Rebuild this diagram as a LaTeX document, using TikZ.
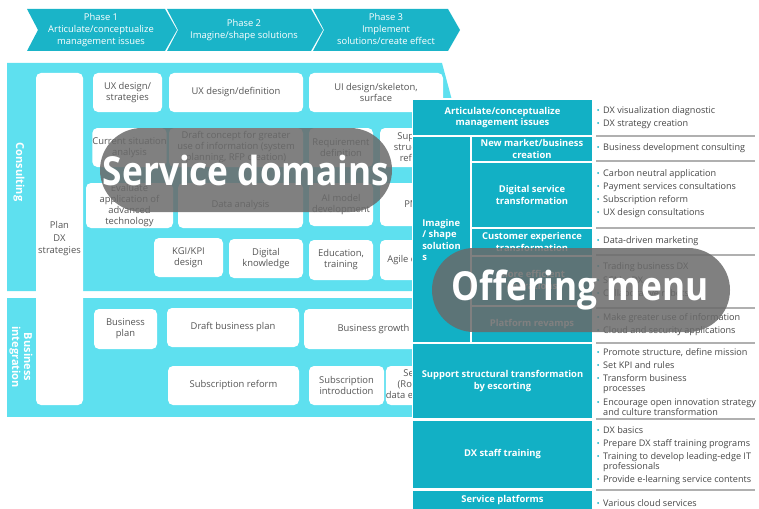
\documentclass[tikz,border=0pt]{standalone}
\usepackage{fontspec}
\setmainfont{Open Sans}
\usepackage{xcolor}
\usepackage{graphicx}
\usepackage{tikz}

\definecolor{phase}{HTML}{1AB4C8}
\definecolor{lite}{HTML}{5EE0EF}
\definecolor{deep}{HTML}{12B0C5}
\definecolor{ink}{HTML}{555555}
\definecolor{note}{HTML}{474747}
\definecolor{rul}{HTML}{B0B0B0}
\definecolor{veil}{HTML}{6A6A6A}

\tikzset{
	phs/.style={text=white, align=center, inner sep=0pt, font=\fontsize{9.4}{12}\selectfont},
	side/.style={rotate=-90, text=white, align=center, inner sep=0pt, font=\bfseries\fontsize{11}{12}\selectfont},
	wbox/.style={fill=white, rounded corners=5pt, text=ink, align=center, inner sep=0pt, font=\fontsize{9.4}{11}\selectfont},
	cell/.style={fill=deep, text=white, align=center, inner sep=0pt, font=\bfseries\fontsize{9.4}{11.5}\selectfont},
	item/.style={anchor=base west, inner sep=0pt, text=note, font=\fontsize{9.1}{11}\selectfont},
	big/.style={text=white, inner sep=0pt, font=\bfseries\fontsize{40}{40}\selectfont},
}

\begin{document}
\begin{tikzpicture}[x=1pt,y=-1pt]
	
	\useasboundingbox (0,0) rectangle (759,508);
	
	\foreach \a/\b in {27/165,167/311,313/448}
		\fill[phase] (\a,9) -- (\b,9) -- (\b+12,30) -- (\b,51) -- (\a,51) -- (\a+11,30) -- cycle;
	\node[phs] (p1) at (101,30.5) {Phase 1\\Articulate/conceptualize\\management issues};
	\node[phs] (p2) at (244,30) {Phase 2\\Imagine/shape solutions};
	\node[phs] (p3) at (386,29) {Phase 3\\Implement\\solutions/create effect};
	
	\fill[lite] (7,63) -- (442,63) -- (460,130) -- (460,291) -- (7,291) -- cycle;
	\fill[lite] (7,298) rectangle (440,417);
	\node[side] (cl) at (19,172) {Consulting};
	\node[side] (bl) at (21,357) {Business\\integration};
	
	\node[wbox, minimum width=47pt, minimum height=332pt] (plan) at (59.5,239) {Plan\\[1.5pt]DX\\[1.5pt]strategies};
	
	\node[wbox, minimum width=69pt, minimum height=39pt] (uxs) at (127.5,92.5) {UX design/\\strategies};
	\node[wbox, minimum width=134pt, minimum height=39pt] (uxd) at (236,92.5) {UX design/definition};
	\node[wbox, minimum width=134pt, minimum height=39pt] (uid) at (376,92.5) {UI design/skeleton,\\surface};
	
	\node[wbox, minimum width=71pt, minimum height=39pt] (cur) at (129.5,147.5) {Current situation\\analysis};
	\node[wbox, minimum width=134pt, minimum height=39pt] (dft) at (236,147.5) {Draft concept for greater\\use of information (system\\planning, RFP creation)};
	\node[wbox, minimum width=64pt, minimum height=39pt] (req) at (341,147.5) {Requirement\\definition};
	\node[wbox, minimum width=70pt, minimum height=39pt] (sup) at (415,147.5) {Support\\structural\\reform};
	
	\node[wbox, minimum width=87pt, minimum height=45pt] (eva) at (129.5,205.5) {Evaluate\\application of\\advanced\\technology};
	\node[wbox, minimum width=125pt, minimum height=45pt] (dat) at (240.5,205.5) {Data analysis};
	\node[wbox, minimum width=64pt, minimum height=43pt] (aim) at (341,204.5) {AI model\\development};
	\node[wbox, minimum width=70pt, minimum height=43pt] (pmo) at (415,204.5) {PMO};
	
	\node[wbox, minimum width=69pt, minimum height=39pt] (kgi) at (188.5,257.5) {KGI/KPI\\design};
	\node[wbox, minimum width=74pt, minimum height=39pt] (dig) at (266,258.5) {Digital\\knowledge};
	\node[wbox, minimum width=64pt, minimum height=40pt] (edu) at (341,260) {Education,\\training};
	\node[wbox, minimum width=96pt, minimum height=40pt] (agi) at (428,260) {Agile development};
	
	\node[wbox, minimum width=63pt, minimum height=40pt] (bpl) at (125.5,329) {Business\\plan};
	\node[wbox, minimum width=132pt, minimum height=39pt] (dbp) at (233,327.5) {Draft business plan};
	\node[wbox, minimum width=139pt, minimum height=40pt] (bgr) at (373.5,329) {Business growth};
	\node[wbox, minimum width=131pt, minimum height=39pt] (sre) at (233.5,385.5) {Subscription reform};
	\node[wbox, minimum width=75pt, minimum height=39pt] (sin) at (346.5,385.5) {Subscription\\introduction};
	\node[wbox, minimum width=66pt, minimum height=39pt] (ser) at (419,385.5) {Service\\(Robotics,\\data exchange)};
	
	\fill[white] (412,98) rectangle (759,508);
	
	\node[cell, minimum width=179pt, minimum height=35pt] (art) at (502.5,117.5) {Articulate/conceptualize\\management issues};
	\node[cell, minimum width=57pt, minimum height=205pt] (img) at (441.5,239.5) {};
	\node[cell, align=left] (imt) at (441.5,240) {Imagine\\/ shape\\solution\\s};
	\node[cell, minimum width=120pt, minimum height=24pt] (nmb) at (532,149) {New market/business\\creation};
	\node[cell, minimum width=120pt, minimum height=64pt] (dst) at (532,195) {Digital service\\transformation};
	\node[cell, minimum width=120pt, minimum height=26pt] (cxt) at (532,242) {Customer experience\\transformation};
	\node[cell, minimum width=120pt, minimum height=48pt] (meo) at (532,281) {More efficient\\operations};
	\node[cell, minimum width=120pt, minimum height=35pt] (plr) at (532,324.5) {Platform revamps};
	\node[cell, minimum width=179pt, minimum height=74pt] (sst) at (502.5,381) {Support structural transformation\\by escorting};
	\node[cell, minimum width=179pt, minimum height=67pt] (dxs) at (502.5,454.5) {DX staff training};
	\node[cell, minimum width=179pt, minimum height=18pt] (svp) at (502.5,500) {Service platforms};
	
	\foreach \y in {136,161,228,255,308,343,419,490}
		\draw[rul, line width=1.2pt] (596,\y) -- (755,\y);
	
	\foreach \y/\t in {110/DX visualization diagnostic, 123/DX strategy creation,
		147/Business development consulting,
		173/Carbon neutral application, 186/Payment services consultations, 199/Subscription reform, 212/UX design consultations,
		240/Data-driven marketing,
		266/Trading business DX, 280/SCM -- DX, 293/Collaborative robots,
		317/Make greater use of information, 330/Cloud and security applications,
		352/{Promote structure, define mission}, 365/Set KPI and rules, 378/Transform business/development, 402/Encourage open innovation strategy,
		430/DX basics, 443/Prepare DX staff training programs, 456/Training to develop leading-edge IT, 479/Provide e-learning service contents,
		503/Various cloud services}
	{
		\fill[deep] (598,\y) circle (1pt);
		\node[item] at (603,\y+3.3) {\t};
	}
	\foreach \y/\t in {388/processes, 412/and culture transformation, 466/professionals}
		\node[item] at (603,\y+3.3) {\t};
	
	\fill[veil, opacity=.85, rounded corners=42pt] (100,128) rectangle (392,212);
	\node[big] (sd) at (246,170) {\scalebox{.88}[1]{Service domains}};
	\fill[veil, opacity=.85, rounded corners=42pt] (432,248) rectangle (730,332);
	\node[big] (om) at (580,290) {\scalebox{.88}[1]{Offering menu}};
	
\end{tikzpicture}
\end{document}
